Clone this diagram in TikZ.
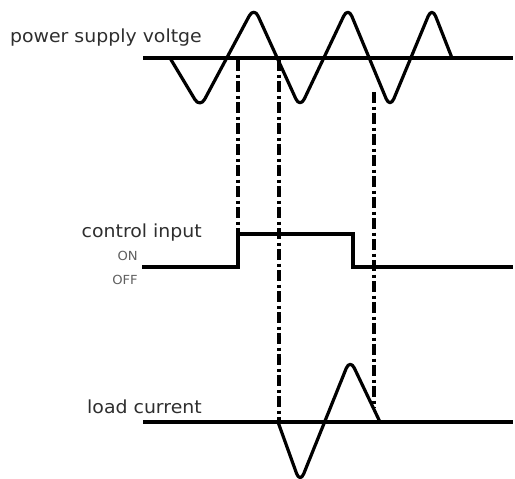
\documentclass[tikz,border=0pt]{standalone}
\usepackage{fontspec}
\newfontfamily\lblfont{DejaVu Sans}[FakeStretch=1.05]
\definecolor{lblgray}{HTML}{2E2E2E}
\definecolor{onoff}{HTML}{606060}
\begin{document}
\begin{tikzpicture}[x=1pt,y=-1pt,
  sig/.style={line width=3.2pt, line join=round, rounded corners=10pt},
  axis/.style={line width=3.2pt},
  guide/.style={line width=3.2pt, dash pattern=on 11pt off 3.5pt on 3pt off 3.5pt},
  lbl/.style={inner sep=0pt, anchor=base east, text=lblgray, font=\lblfont\fontsize{18}{20}\selectfont},
  small/.style={inner sep=0pt, anchor=base east, text=onoff, font=\lblfont\fontsize{12.5}{14}\selectfont}]
\useasboundingbox (0,0) rectangle (515,479);
% labels
\node[lbl] (lv) at (202,42) {power supply voltge};
\node[lbl] (lc) at (202,237) {control input};
\node[small] (on) at (138,260) {ON};
\node[small] (off) at (138,284) {OFF};
\node[lbl] (ll) at (202,413) {load current};
% axes
\draw[axis] (143,58) -- (513,58);
\draw[axis] (143,422) -- (513,422);
% power supply voltage
\draw[sig] (170,58) -- (200,108) -- (254,7) -- (300,108) -- (348,7) -- (390,108) -- (432,7) -- (452,58);
% control input
\draw[axis, line join=miter] (142,267) -- (238,267) -- (238,234) -- (353,234) -- (353,267) -- (513,267);
% load current
\draw[sig] (278,422) -- (300,483) -- (350,359) -- (380,422);
% guides
\coordinate (g1a) at (238,60); \coordinate (g1b) at (238,234);
\coordinate (g2a) at (279,60); \coordinate (g2b) at (279,422);
\coordinate (g3a) at (374,92); \coordinate (g3b) at (374,408);
\draw[guide] (g1a) -- (g1b);
\draw[guide] (g2a) -- (g2b);
\draw[guide] (g3a) -- (g3b);
\end{tikzpicture}
\end{document}
